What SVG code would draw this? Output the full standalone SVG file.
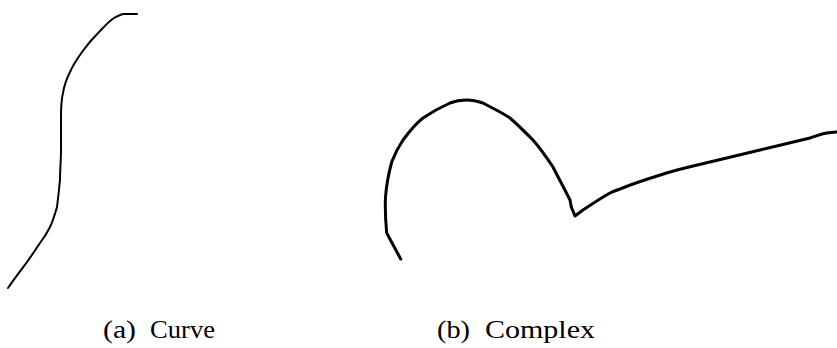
<svg xmlns="http://www.w3.org/2000/svg" width="837" height="348" viewBox="0 0 837 348">
<style>
.stroke{fill:none;stroke:#000;stroke-linecap:round;stroke-linejoin:round}
.cap{font-family:"Liberation Serif","DejaVu Serif",serif;font-size:25px;fill:#000}
</style>
<rect width="837" height="348" fill="#fff"/>
<g id="curve">
<path class="stroke" stroke-width="2" d="M137,14 L123,14 C119,15 116,17 114,18 C108,22 104,27 100,31 C93,38 87,45 82,52 C77,59 73,65 70,72 C66,80 64,86 63,93 C61,101 61,109 61,117 C61,128 61,139 61,150 C61,160 60,170 60,180 C59,190 58,199 57,207 C55,214 53,221 50,227 C47,233 44,238 40,243 C36,249 32,255 27,262 C21,270 14,279 8,288"/>
</g>
<g id="complex">
<path class="stroke" stroke-width="3" d="M400.7,259 L386.7,233 C385.5,221 385,209 385.5,197 C386.5,184 389,172 391.7,162 C395,153 399,146 403,140 C409,132 415,124 423,118 C432,112 441,107 450,103 C455,101 461,100 466.7,100 C472,100 477,101 483,103 C492,108 501,112 510,118 C518,125 526,133 533,140 C540,148 547,158 553,167 C558,177 564,188 570,200 C570.5,203 571,206 571.7,208 L575,216 L583,210 C592,204 601,198 610,193 C614,191 617,190 620,189 C637,182 654,177 670,172 C683,168 697,165 710,162 C727,158 743,154 760,150 C777,146 793,142 810,138 C816,136 821,134 826.7,133 L836,132"/>
</g>
<g id="captions">
<text class="cap" x="103" y="338"><tspan textLength="33" lengthAdjust="spacingAndGlyphs">(a)</tspan><tspan x="150" textLength="65" lengthAdjust="spacingAndGlyphs">Curve</tspan></text>
<text class="cap" x="437" y="338"><tspan textLength="33" lengthAdjust="spacingAndGlyphs">(b)</tspan><tspan x="485" textLength="110" lengthAdjust="spacingAndGlyphs">Complex</tspan></text>
</g>
</svg>
